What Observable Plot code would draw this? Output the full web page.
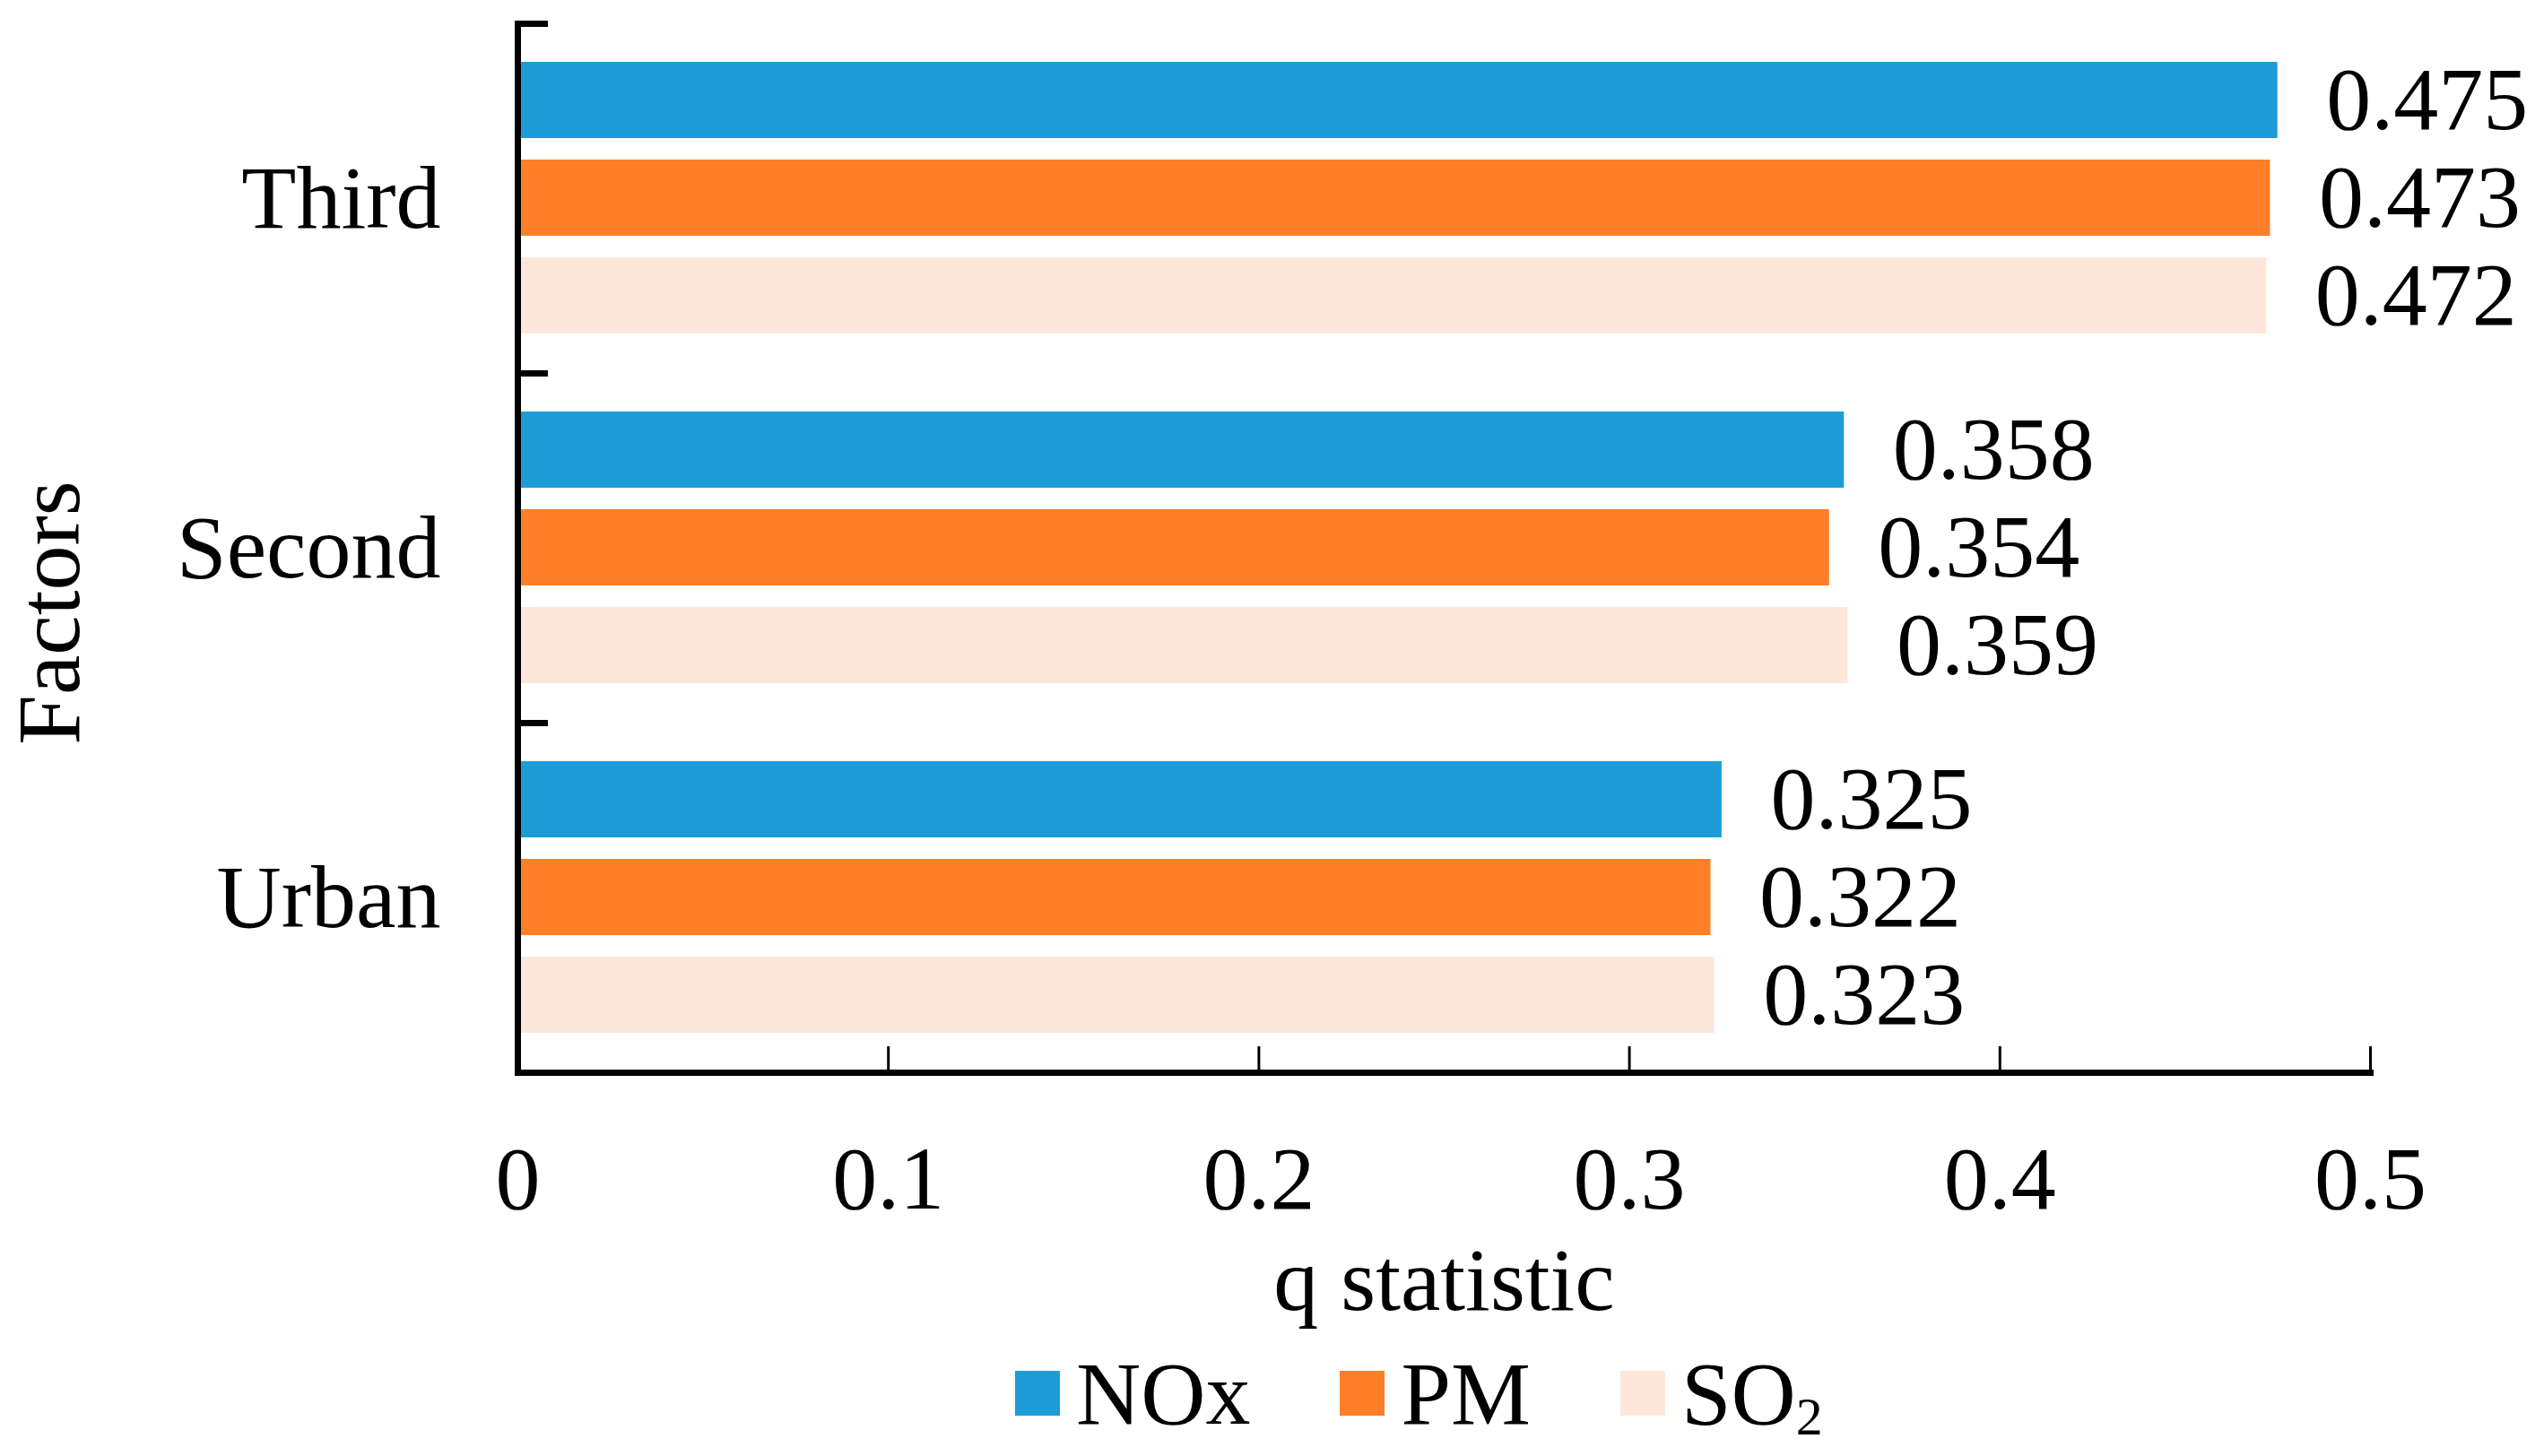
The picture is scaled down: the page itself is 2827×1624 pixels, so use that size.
<!DOCTYPE html>
<html>
<head>
<meta charset="utf-8">
<script src="https://cdn.jsdelivr.net/npm/d3@7"></script>
<script src="https://cdn.jsdelivr.net/npm/@observablehq/plot@0.6"></script>
<style>
  html, body { margin: 0; padding: 0; background: white; }
  #chart { width: 2827px; }
  .legend {
    display: flex; align-items: center; height: 100px;
    margin-top: 14px; margin-left: 1132px;
    font-family: "Liberation Serif", "Times New Roman", serif; font-size: 100px; color: black;
  }
  .legend .item { display: flex; align-items: center; margin-right: 100px; }
  .legend .sw { width: 50px; height: 50px; margin-right: 18px; }
  .legend sub { font-size: 60%; vertical-align: -0.2em; line-height: 0; }
</style>
</head>
<body>
<div id="chart"></div>
<script>
const categories = ["Third", "Second", "Urban"];
const series = ["NOx", "PM", "SO2"];
const seriesLabels = ["NOx", "PM", "SO<sub>2</sub>"];
const noxValues = [0.475, 0.358, 0.325];
const pmValues = [0.473, 0.354, 0.322];
const so2Values = [0.472, 0.359, 0.323];
const colors = ["#1E9CD8", "#FE7F27", "#FEE6DA"];
const xTicks = [0, 0.1, 0.2, 0.3, 0.4, 0.5];
const xLabel = "q statistic";
const yLabel = "Factors";

const valuesBySeries = [noxValues, pmValues, so2Values];
const rows = [];
categories.forEach((c, i) => {
  series.forEach((s, j) => rows.push({category: c, series: s, value: valuesBySeries[j][i]}));
});

const W = 2827, H = 1490;
const mL = 577, mR = 184, mT = 26, mB = 294;
const plotW = W - mL - mR;

const chart = Plot.plot({
  width: W, height: H,
  marginTop: mT, marginBottom: mB, marginLeft: mL, marginRight: mR,
  style: {fontFamily: "'Liberation Serif', 'Times New Roman', serif", fontSize: "100px", background: "white", color: "black", overflow: "visible"},
  x: {domain: [0, 0.5]},
  y: {domain: series, axis: null, paddingInner: 0.218, paddingOuter: 0.382},
  fy: {domain: categories, padding: 0},
  color: {domain: series, range: colors},
  marks: [
    Plot.barX(rows, {x: "value", y: "series", fy: "category", fill: "series"}),
    Plot.text(rows, {x: "value", y: "series", fy: "category", text: d => d3.format(".3f")(d.value),
      textAnchor: "start", dx: 54, fontSize: 100, fill: "black"}),
    Plot.frame({anchor: "left", strokeWidth: 7}),
    Plot.frame({anchor: "top", insetRight: plotW - 30, strokeWidth: 7}),
    Plot.frame({anchor: "bottom", facetAnchor: "bottom", strokeWidth: 7}),
    Plot.axisX({ticks: xTicks, tickFormat: d => String(d), tickSize: -29, tickPadding: 109, strokeWidth: 3,
      fontSize: 100, label: xLabel, labelAnchor: "center", labelOffset: 264, labelArrow: "none"}),
    Plot.axisFy({anchor: "left", tickSize: 0, tickPadding: 86, label: null, fontSize: 100}),
    Plot.text([yLabel], {text: d => d, fy: () => categories[1], frameAnchor: "left", rotate: -90,
      dx: -522, dy: 72, textAnchor: "middle", fontSize: 100, fill: "black"})
  ]
});
document.getElementById("chart").appendChild(chart);

const legend = document.createElement("div");
legend.className = "legend";
series.forEach((s, i) => {
  const item = document.createElement("div");
  item.className = "item";
  item.innerHTML = `<div class="sw" style="background:${colors[i]}"></div><span>${seriesLabels[i]}</span>`;
  legend.appendChild(item);
});
document.body.appendChild(legend);
</script>
</body>
</html>
